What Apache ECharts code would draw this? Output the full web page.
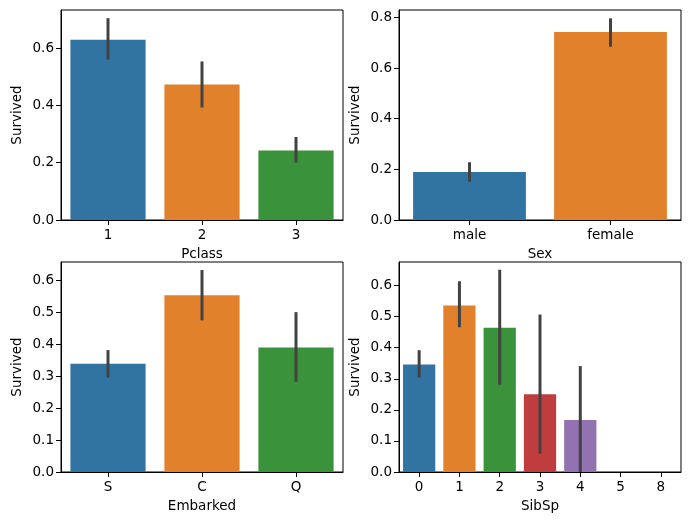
<!DOCTYPE html>
<html>
<head>
<meta charset="utf-8">
<script src="https://cdn.jsdelivr.net/npm/echarts@6/dist/echarts.min.js"></script>
<style>
html,body{margin:0;padding:0;background:#fff;}
#c{width:691px;height:525px;}
</style>
</head>
<body>
<div id="c"></div>
<script>
// ---- data ----
const pclassCats = ['1', '2', '3'];
const pclassMean = [0.630, 0.473, 0.243];
const pclassLow  = [0.560, 0.393, 0.201];
const pclassHigh = [0.705, 0.554, 0.290];

const sexCats = ['male', 'female'];
const sexMean = [0.189, 0.742];
const sexLow  = [0.151, 0.684];
const sexHigh = [0.228, 0.796];

const embarkedCats = ['S', 'C', 'Q'];
const embarkedMean = [0.339, 0.554, 0.390];
const embarkedLow  = [0.296, 0.475, 0.283];
const embarkedHigh = [0.382, 0.633, 0.501];

const sibspCats = ['0', '1', '2', '3', '4', '5', '8'];
const sibspMean = [0.346, 0.536, 0.464, 0.250, 0.167, 0, 0];
const sibspLow  = [0.304, 0.466, 0.281, 0.059, 0.000, 0, 0];
const sibspHigh = [0.392, 0.614, 0.651, 0.507, 0.341, 0, 0];

const yTicks1 = [0, 0.2, 0.4, 0.6];
const yTicks2 = [0, 0.2, 0.4, 0.6, 0.8];
const yTicks3 = [0, 0.1, 0.2, 0.3, 0.4, 0.5, 0.6];
const yTicks4 = [0, 0.1, 0.2, 0.3, 0.4, 0.5, 0.6];

// ---- styling ----
const palette = ['#3274a1', '#e1812c', '#3a923a', '#c03d3e', '#9372b2', '#845b53', '#d684bd'];
const FONT = 'DejaVu Sans';
const FS = 13.5;

const panels = [
  {cats: pclassCats, mean: pclassMean, lo: pclassLow, hi: pclassHigh, name: 'Pclass', ticks: yTicks1, max: 0.7335, left: 61, top: 10},
  {cats: sexCats, mean: sexMean, lo: sexLow, hi: sexHigh, name: 'Sex', ticks: yTicks2, max: 0.829, left: 399, top: 10},
  {cats: embarkedCats, mean: embarkedMean, lo: embarkedLow, hi: embarkedHigh, name: 'Embarked', ticks: yTicks3, max: 0.658, left: 61, top: 262},
  {cats: sibspCats, mean: sibspMean, lo: sibspLow, hi: sibspHigh, name: 'SibSp', ticks: yTicks4, max: 0.676, left: 399, top: 262}
];

const grid = [], xAxis = [], yAxis = [], series = [];
panels.forEach((p, i) => {
  grid.push({left: p.left, top: p.top, width: 282, height: 210, show: true,
    borderColor: '#000', borderWidth: 1, backgroundColor: 'transparent'});
  xAxis.push({
    type: 'category', gridIndex: i, data: p.cats,
    name: p.name, nameLocation: 'middle', nameGap: 27,
    nameTextStyle: {fontFamily: FONT, fontSize: FS, color: '#000'},
    axisLine: {show: true, lineStyle: {color: '#000', width: 1}},
    axisTick: {show: true, alignWithLabel: true, length: 5, lineStyle: {color: '#000'}},
    axisLabel: {fontFamily: FONT, fontSize: FS, color: '#000', margin: 8},
    splitLine: {show: false}
  });
  yAxis.push({
    type: 'value', gridIndex: i, min: 0, max: p.max,
    name: 'Survived', nameLocation: 'middle', nameGap: 37,
    nameTextStyle: {fontFamily: FONT, fontSize: FS, color: '#000'},
    axisLine: {show: true, lineStyle: {color: '#000', width: 1}},
    axisTick: {show: true, length: 5, lineStyle: {color: '#000'}, customValues: p.ticks},
    axisLabel: {fontFamily: FONT, fontSize: FS, color: '#000', margin: 7,
      customValues: p.ticks, formatter: v => Number(v).toFixed(1)},
    splitLine: {show: false}
  });
  series.push({
    type: 'bar', xAxisIndex: i, yAxisIndex: i, barCategoryGap: '20%',
    data: p.mean.map((v, k) => ({value: v, itemStyle: {color: palette[k]}})),
    silent: true, animation: false
  });
  series.push({
    type: 'custom', xAxisIndex: i, yAxisIndex: i, z: 5, silent: true, animation: false,
    encode: {x: 0, y: [1, 2]},
    data: p.cats.map((c, k) => [k, p.lo[k], p.hi[k]]),
    renderItem: (params, api) => {
      const a = api.coord([api.value(0), api.value(1)]);
      const b = api.coord([api.value(0), api.value(2)]);
      return {type: 'line', shape: {x1: a[0], y1: a[1], x2: b[0], y2: b[1]},
        style: {stroke: '#424242', lineWidth: 3}};
    }
  });
});

const chart = echarts.init(document.getElementById('c'), null, {renderer: 'canvas'});
chart.setOption({animation: false, backgroundColor: '#fff', grid, xAxis, yAxis, series});
</script>
</body>
</html>
